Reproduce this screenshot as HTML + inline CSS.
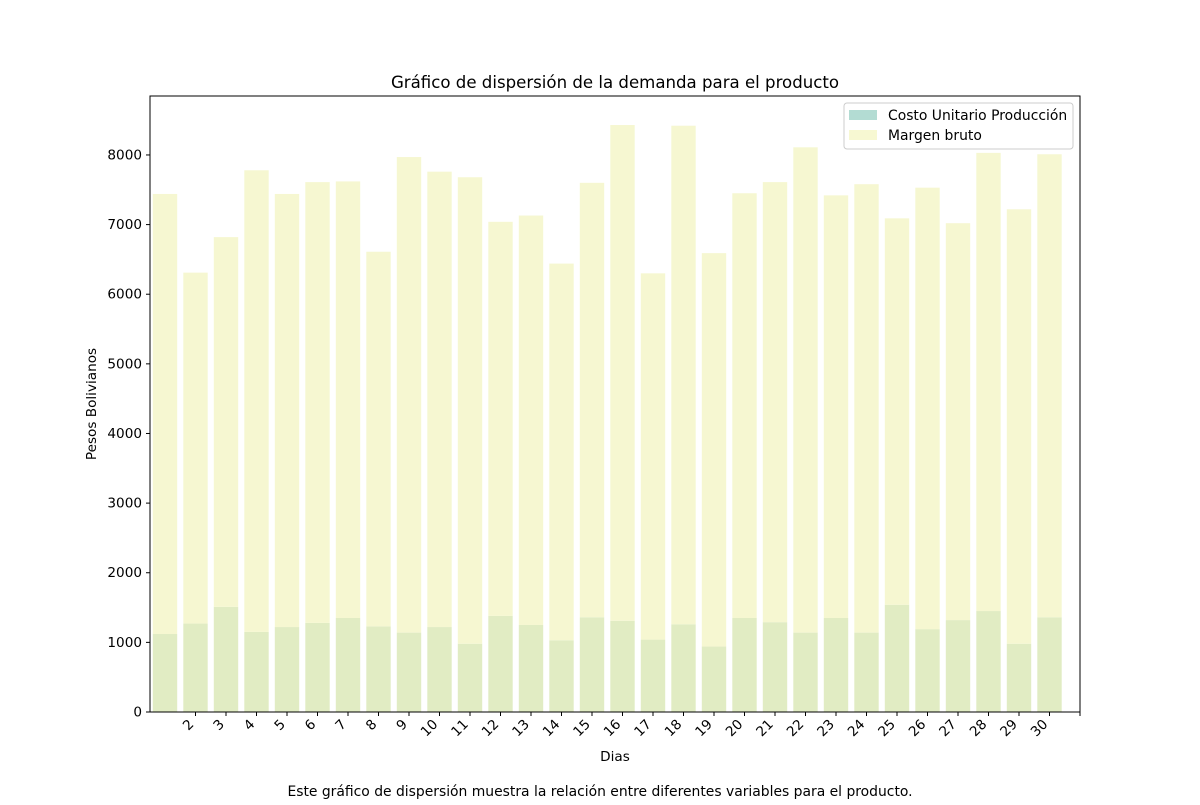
<!DOCTYPE html>
<html><head><meta charset="utf-8"><style>
body{margin:0;background:#fff;}
svg text{font-family:"DejaVu Sans","Liberation Sans",sans-serif;fill:#000;}
</style></head><body>
<svg id="chart" width="1200" height="800" xmlns="http://www.w3.org/2000/svg">
<rect width="1200" height="800" fill="#fff"/>
<text x="615" y="88" font-size="16.6" text-anchor="middle">Gráfico de dispersión de la demanda para el producto</text>
<g id="bars"></g>
<g id="axes"></g>
<text x="615" y="761" font-size="13.6" text-anchor="middle">Dias</text>
<text transform="translate(96,404) rotate(-90)" font-size="13.6" text-anchor="middle">Pesos Bolivianos</text>
<text x="600" y="796" font-size="13.9" text-anchor="middle">Este gráfico de dispersión muestra la relación entre diferentes variables para el producto.</text>
<g>
<rect x="844" y="103" width="229" height="46" rx="3" fill="#fff" fill-opacity="0.8" stroke="#ccc"/>
<rect x="849" y="110" width="28" height="10" fill="#b3dcd3"/>
<text x="888" y="120" font-size="13.9">Costo Unitario Producción</text>
<rect x="849" y="130" width="28" height="10" fill="#f7f8d2"/>
<text x="888" y="140" font-size="13.9">Margen bruto</text>
</g>
</svg>
<script>
const days=[1,2,3,4,5,6,7,8,9,10,11,12,13,14,15,16,17,18,19,20,21,22,23,24,25,26,27,28,29,30];
const cost=[1120,1270,1510,1150,1220,1280,1350,1230,1140,1220,980,1380,1250,1030,1360,1310,1040,1260,940,1350,1290,1140,1350,1140,1540,1190,1320,1450,980,1360];
const margin=[6320,5040,5310,6630,6220,6330,6270,5380,6830,6540,6700,5660,5880,5410,6240,7120,5260,7160,5650,6100,6320,6970,6070,6440,5550,6340,5700,6580,6240,6650];
const yTicks=[0,1000,2000,3000,4000,5000,6000,7000,8000];
const L=150,R=1080,T=96,B=712;
const x=d=>165+(d-1)*30.5;
const y=v=>B-v*0.06963;
const NS="http://www.w3.org/2000/svg";
const bars=document.getElementById('bars'),axes=document.getElementById('axes');
function mk(tag,at,parent){const e=document.createElementNS(NS,tag);for(const k in at)e.setAttribute(k,at[k]);parent.appendChild(e);return e;}
const bw=24.4;
days.forEach((d,i)=>{
  const c=mk('rect',{x:x(d)-bw/2,y:y(cost[i]),width:bw,height:B-y(cost[i]),fill:'#e1ecc3'},bars);
  
  
  const m=mk('rect',{x:x(d)-bw/2,y:y(cost[i]+margin[i]),width:bw,height:y(cost[i])-y(cost[i]+margin[i]),fill:'#f6f7d1'},bars);
  
  
});
const frame=mk('rect',{x:L,y:T,width:R-L,height:B-T,fill:'none',stroke:'#000','stroke-width':1},axes);


yTicks.forEach(v=>{
  mk('line',{x1:L-4,x2:L,y1:y(v),y2:y(v),stroke:'#000'},axes);
  const t=mk('text',{x:L-8,y:y(v)+4.5,'font-size':13.6,'text-anchor':'end'},axes);
  t.textContent=v;
  
  
});
for(let d=2;d<=31;d++){
  mk('line',{x1:x(d),x2:x(d),y1:B,y2:B+4,stroke:'#000'},axes);
  if(d<=30){
    const t=mk('text',{transform:`translate(${x(d)-1},${B+13}) rotate(-45)`,'font-size':13.6,'text-anchor':'end'},axes);
    t.textContent=d;
    
    
  }
}
</script>
</body></html>
